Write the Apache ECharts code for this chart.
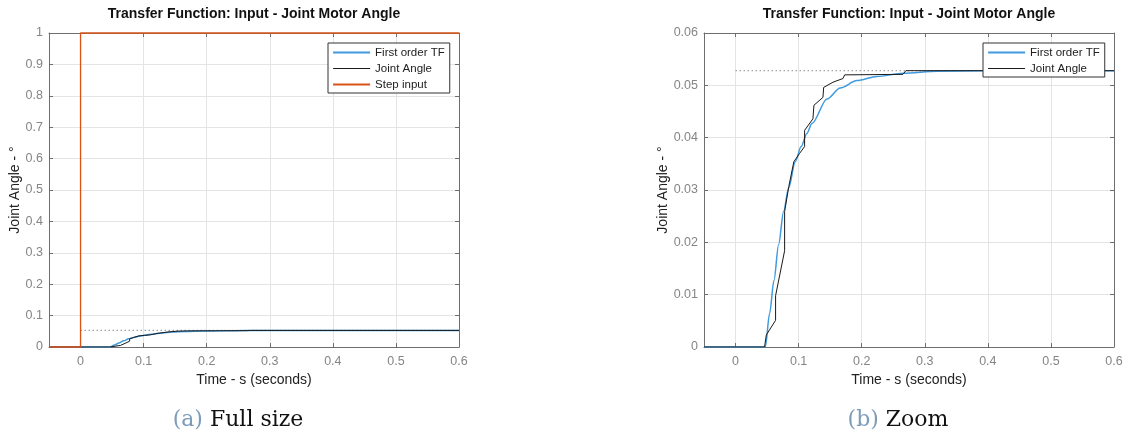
<!DOCTYPE html>
<html>
<head>
<meta charset="utf-8">
<script src="https://cdn.jsdelivr.net/npm/echarts@6/dist/echarts.min.js"></script>
<style>
  html, body { margin: 0; padding: 0; background: #fff; }
  #chart { width: 1128px; height: 442px; }
</style>
</head>
<body>
<div id="chart"></div>
<script>
// 读图得到的数据 (time in s, angle in deg)
var tfTime  = [-0.05, 0.0472, 0.054, 0.0609, 0.0683, 0.0762, 0.0842, 0.0947, 0.104, 0.1131, 0.1211, 0.145, 0.166, 0.1925, 0.224, 0.266, 0.32, 0.4, 0.6];
var tfAngle = [0, 0, 0.0064, 0.0127, 0.0196, 0.0259, 0.0304, 0.0354, 0.0383, 0.0408, 0.0427, 0.0474, 0.0495, 0.0509, 0.0517, 0.0523, 0.0527, 0.0528, 0.0528];

var jaTime  = [-0.05, 0.046, 0.0488, 0.0635, 0.0635, 0.0778, 0.0778, 0.0845, 0.0924, 0.1016, 0.1095, 0.1095, 0.1227, 0.1243, 0.1386, 0.1397, 0.1545, 0.1703, 0.173, 0.2655, 0.27, 0.6];
var jaAngle = [0, 0, 0.0023, 0.0051, 0.0098, 0.0184, 0.0259, 0.0307, 0.0354, 0.037, 0.0383, 0.0414, 0.0436, 0.0462, 0.0477, 0.0496, 0.0506, 0.0513, 0.0520, 0.0521, 0.0528, 0.0528];

var stepTime  = [-0.05, 0, 0, 0.6];
var stepValue = [0, 0, 1, 1];

var refTime  = [0, 0.6];
var refValue = [0.0528, 0.0528];

var xTicks = [0, 0.1, 0.2, 0.3, 0.4, 0.5, 0.6];
var panelTitle = 'Transfer Function: Input - Joint Motor Angle';
var captions = [['(a)', 'Full size'], ['(b)', 'Zoom']];

function pairs(xs, ys) {
    return xs.map(function (x, i) { return [x, ys[i]]; });
}

var FONT = '"Liberation Sans", Arial, Helvetica, sans-serif';
var axisColor = '#6e6e6e';
var gridColor = '#e4e4e4';
var labelColor = '#858585';
var fmt = function (v) { return String(+v.toFixed(3)); };

function xAxisFor(g, pos) {
    var bottom = pos === 'bottom';
    return {
        type: 'value', gridIndex: g, position: pos, min: -0.05, max: 0.6,
        name: bottom ? 'Time - s (seconds)' : '',
        nameLocation: 'middle', nameGap: 22,
        nameTextStyle: { fontFamily: FONT, fontSize: 14, color: '#222' },
        axisLine: { show: true, onZero: false, lineStyle: { color: axisColor } },
        axisTick: { show: true, inside: true, length: 4, customValues: xTicks, lineStyle: { color: axisColor } },
        axisLabel: { show: bottom, customValues: xTicks, formatter: fmt, margin: 8, fontFamily: FONT, fontSize: 12.5, color: labelColor },
        splitLine: { show: bottom, lineStyle: { color: gridColor } }
    };
}

function yAxisFor(g, pos, max, interval, gap) {
    var left = pos === 'left';
    return {
        type: 'value', gridIndex: g, position: pos, min: 0, max: max, interval: interval,
        name: left ? 'Joint Angle - °' : '',
        nameLocation: 'middle', nameGap: gap,
        nameTextStyle: { fontFamily: FONT, fontSize: 14, color: '#222' },
        axisLine: { show: true, onZero: false, lineStyle: { color: axisColor } },
        axisTick: { show: true, inside: true, length: 4, lineStyle: { color: axisColor } },
        axisLabel: { show: left, formatter: fmt, margin: 6, fontFamily: FONT, fontSize: 12.5, color: labelColor },
        splitLine: { show: left, lineStyle: { color: gridColor } }
    };
}

function seriesFor(g, withStep) {
    var s = [
        { name: 'ref', type: 'line', xAxisIndex: g * 2, yAxisIndex: g * 2, data: pairs(refTime, refValue),
          symbol: 'none', silent: true, lineStyle: { color: '#a0a0a0', width: 1.2, type: [1.5, 2.5] } },
        { name: 'First order TF', type: 'line', xAxisIndex: g * 2, yAxisIndex: g * 2, data: pairs(tfTime, tfAngle),
          symbol: 'none', smooth: 0.3, smoothMonotone: 'x', color: '#3f9ade', lineStyle: { color: '#3f9ade', width: 1.5 } },
        { name: 'Joint Angle', type: 'line', xAxisIndex: g * 2, yAxisIndex: g * 2, data: pairs(jaTime, jaAngle),
          symbol: 'none', color: '#1a1a1a', lineStyle: { color: '#1a1a1a', width: 1 } }
    ];
    if (withStep) {
        s.push({ name: 'Step input', type: 'line', xAxisIndex: g * 2, yAxisIndex: g * 2, data: pairs(stepTime, stepValue),
          symbol: 'none', clip: false, color: '#d95319', lineStyle: { color: '#d95319', width: 1.3 } });
    }
    return s;
}

function legendFor(left, names) {
    return {
        data: names.map(function (n) {
            return { name: n, lineStyle: { width: n === 'Joint Angle' ? 1.2 : 2.2 } };
        }),
        orient: 'vertical', left: left, top: 43,
        padding: [3, 5, 2, 4], itemGap: 3, itemWidth: 37, itemHeight: 13,
        backgroundColor: '#fff', borderColor: '#333', borderWidth: 1, borderRadius: 0,
        selectedMode: false,
        itemStyle: { opacity: 0 },
        textStyle: { fontFamily: FONT, fontSize: 11.5, color: '#222', lineHeight: 13 }
    };
}

function captionFor(cx, c) {
    var f = '22px "DejaVu Serif", "Liberation Serif", serif';
    return {
        type: 'text', x: cx, y: 420,
        style: {
            text: '{a|' + c[0] + '} {b|' + c[1] + '}',
            textAlign: 'center', textVerticalAlign: 'middle', font: f,
            rich: { a: { fill: '#7d9cb9', font: f }, b: { fill: '#111', font: f } }
        }
    };
}

function titleFor(cx) {
    return {
        type: 'text', x: cx, y: 14,
        style: { text: panelTitle, textAlign: 'center', textVerticalAlign: 'middle',
                 font: 'bold 14px "Liberation Sans", Arial, sans-serif', fill: '#111' }
    };
}

var chart = echarts.init(document.getElementById('chart'), null, { renderer: 'canvas' });
chart.setOption({
    animation: false,
    backgroundColor: '#fff',
    grid: [
        { left: 49, top: 33, width: 410, height: 314 },
        { left: 704, top: 33, width: 410, height: 314 }
    ],
    xAxis: [xAxisFor(0, 'bottom'), xAxisFor(0, 'top'), xAxisFor(1, 'bottom'), xAxisFor(1, 'top')],
    yAxis: [yAxisFor(0, 'left', 1, 0.1, 27), yAxisFor(0, 'right', 1, 0.1, 0),
            yAxisFor(1, 'left', 0.06, 0.01, 34), yAxisFor(1, 'right', 0.06, 0.01, 0)],
    legend: [
        legendFor(328, ['First order TF', 'Joint Angle', 'Step input']),
        legendFor(983, ['First order TF', 'Joint Angle'])
    ],
    series: seriesFor(0, true).concat(seriesFor(1, false)),
    graphic: [titleFor(254), titleFor(909), captionFor(238, captions[0]), captionFor(898, captions[1])]
});
</script>
</body>
</html>
